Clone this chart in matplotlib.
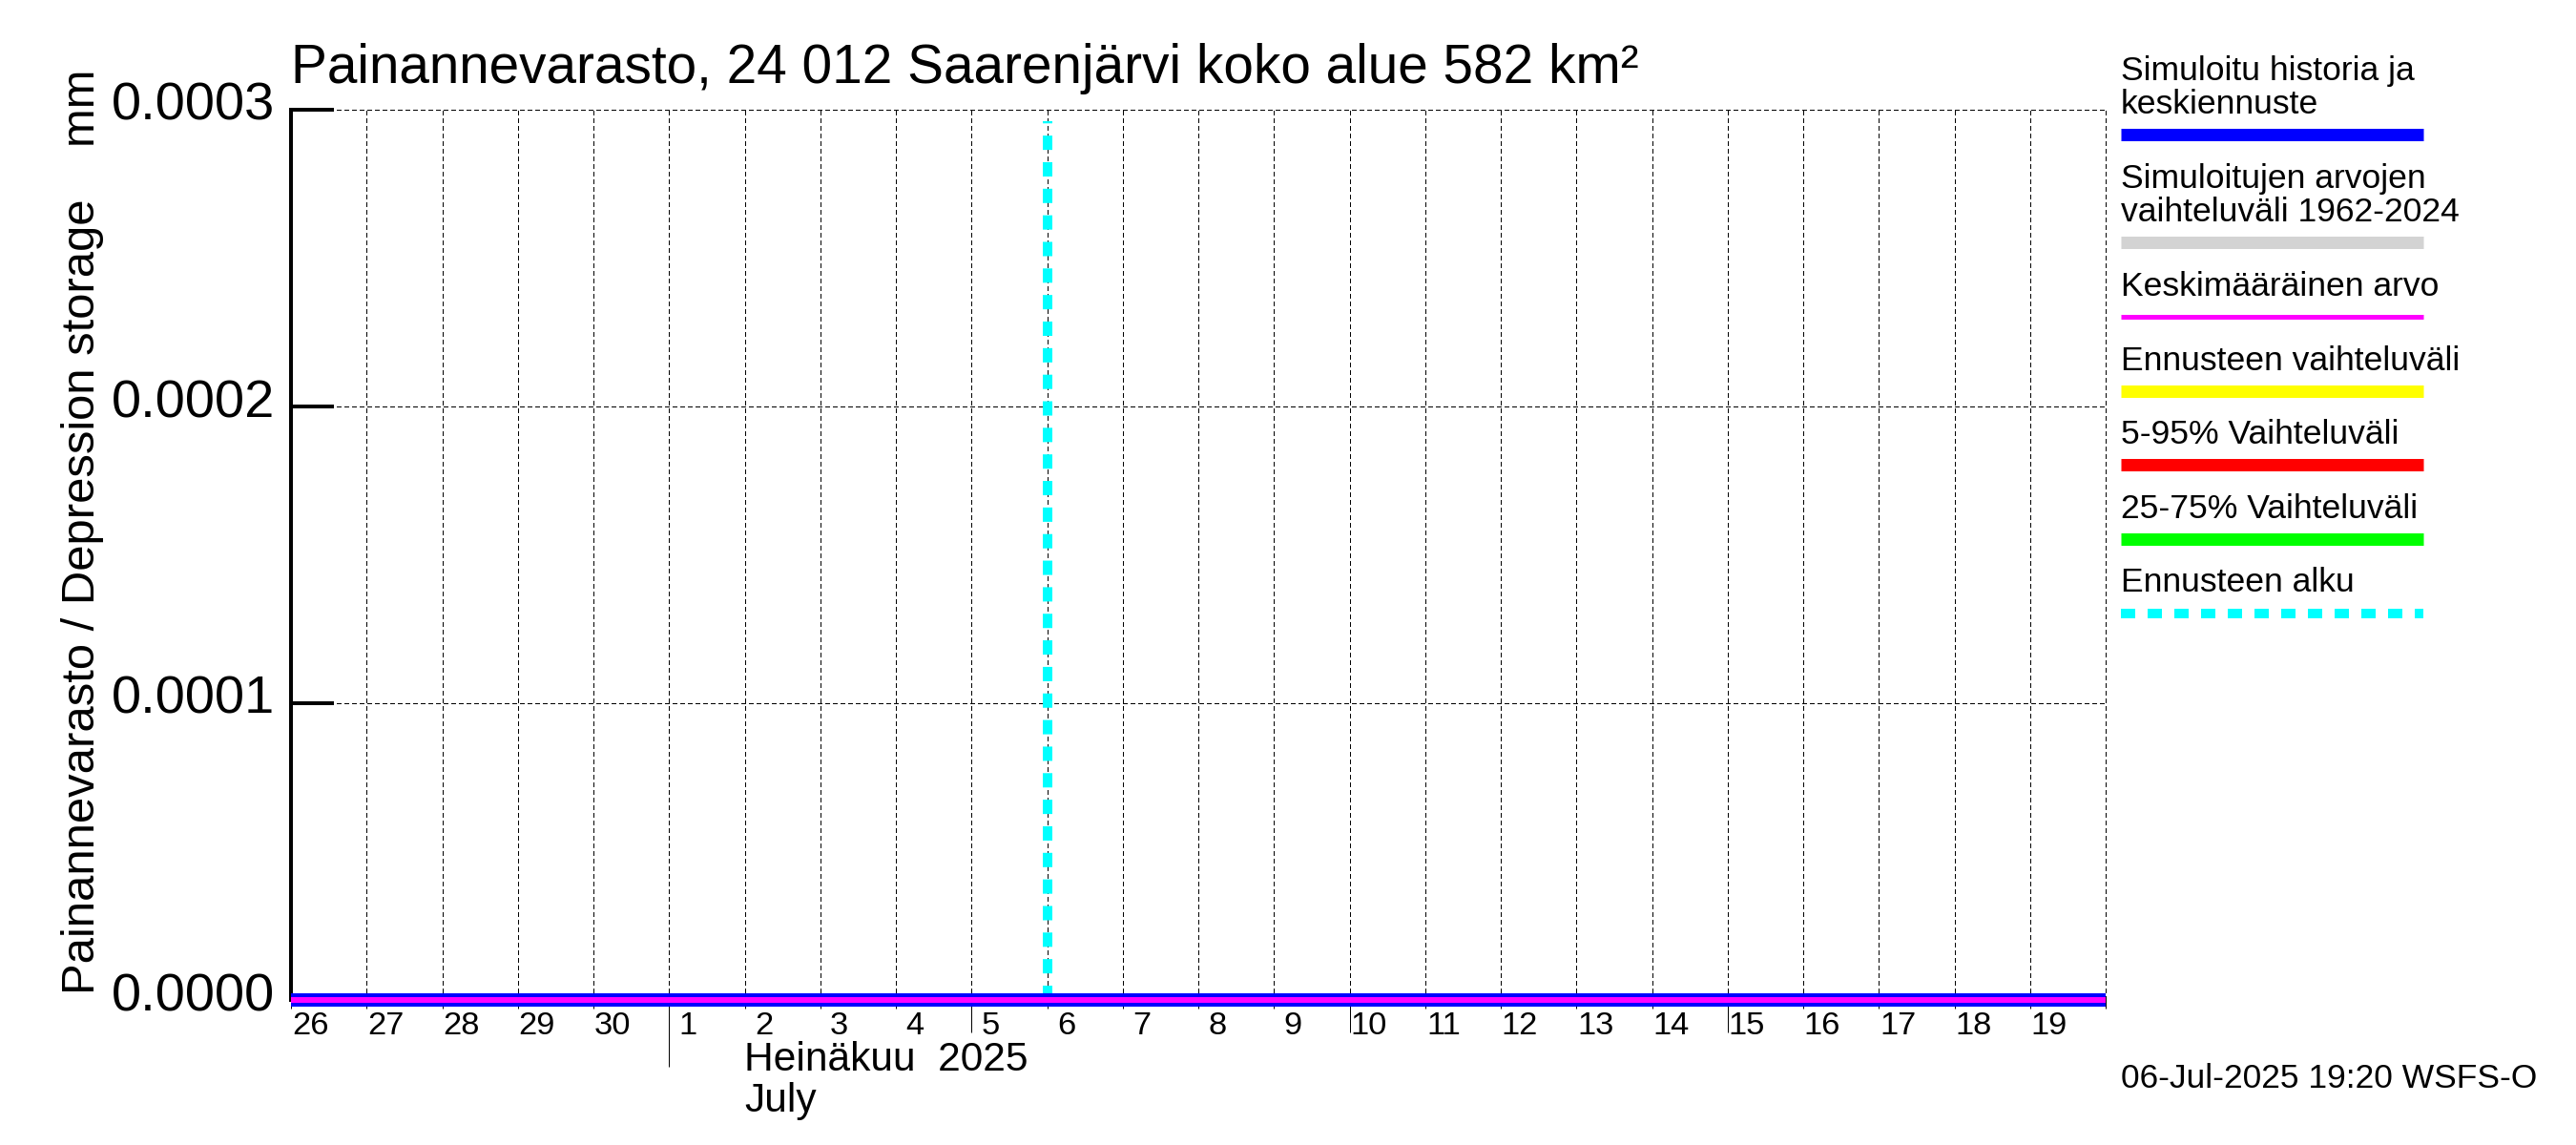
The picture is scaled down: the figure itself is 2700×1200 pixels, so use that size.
import matplotlib
matplotlib.use("Agg")
import matplotlib.pyplot as plt
import pandas as pd
from matplotlib.lines import Line2D
from matplotlib.transforms import ScaledTranslation

plt.rcParams['font.family'] = ['Liberation Sans', 'DejaVu Sans']

W, H = 2700, 1200

## Data

dates = pd.date_range('2025-06-26', '2025-07-20')
day_labels = ['26', '27', '28', '29', '30', '1', '2', '3', '4', '5', '6', '7', '8',
              '9', '10', '11', '12', '13', '14', '15', '16', '17', '18', '19', '']
sim_history = [0.0, 0.0, 0.0, 0.0, 0.0, 0.0, 0.0, 0.0, 0.0, 0.0, 0.0, 0.0, 0.0,
               0.0, 0.0, 0.0, 0.0, 0.0, 0.0, 0.0, 0.0, 0.0, 0.0, 0.0, 0.0]
sim_mean = [0.0, 0.0, 0.0, 0.0, 0.0, 0.0, 0.0, 0.0, 0.0, 0.0, 0.0, 0.0, 0.0,
            0.0, 0.0, 0.0, 0.0, 0.0, 0.0, 0.0, 0.0, 0.0, 0.0, 0.0, 0.0]
forecast_start = pd.Timestamp('2025-07-06')
forecast_top = 0.000296
y_ticks = [0.0, 0.0001, 0.0002, 0.0003]
y_labels = ['0.0000', '0.0001', '0.0002', '0.0003']

legend_texts = [('Simuloitu historia ja', 84), ('keskiennuste', 119),
                ('Simuloitujen arvojen', 197), ('vaihteluväli 1962-2024', 232),
                ('Keskimääräinen arvo', 310), ('Ennusteen vaihteluväli', 388),
                ('5-95% Vaihteluväli', 465), ('25-75% Vaihteluväli', 543),
                ('Ennusteen alku', 620)]
legend_lines = [('#0000ff', 141, 13), ('#d3d3d3', 254, 13), ('#ff00ff', 332, 5),
                ('#ffff00', 410, 13), ('#ff0000', 487, 13), ('#00ff00', 565, 13)]


def px(p):
    # pixels to points
    return p * 0.72


def fx(x):
    return x / W


def fy(y):
    return 1 - y / H


fig = plt.figure(figsize=(27, 12), dpi=100)
ax = fig.add_axes([fx(305), fy(1048), (2207 - 305) / W, (1048 - 115) / H])

ax.set_xlim(dates[0], dates[-1])
ax.set_ylim(0, 0.0003)

## Grid

for s in ['top', 'right', 'bottom']:
    ax.spines[s].set_visible(False)
ax.spines['left'].set_linewidth(px(4))

ax.set_xticks(dates)
ax.set_xticklabels(day_labels, fontsize=px(34.5))
ax.set_yticks(y_ticks)
ax.set_yticklabels(y_labels, fontsize=px(56))
ax.grid(color='black', linewidth=px(1), linestyle=(0, (5, 3)), antialiased=False)
ax.set_axisbelow(True)
for ln in ax.get_xgridlines() + ax.get_ygridlines():
    ln.set_clip_on(False)

ax.tick_params(axis='y', direction='in', length=px(45), width=px(4), pad=px(17))
ax.tick_params(axis='x', direction='out', length=px(9), width=px(1), pad=px(3))

for tick, d in zip(ax.xaxis.get_major_ticks(), dates):
    if d.day == 1:
        tick.tick1line.set_markersize(px(70))
    elif d.day in (5, 10, 15):
        tick.tick1line.set_markersize(px(34))
    tick.tick1line.set_antialiased(False)
    lab = tick.label1
    lab.set_transform(lab.get_transform() + ScaledTranslation(20 / 100, 0, fig.dpi_scale_trans))

for lab in ax.get_yticklabels():
    lab.set_transform(lab.get_transform() + ScaledTranslation(0, 9 / 100, fig.dpi_scale_trans))

## Series

ax.plot([forecast_start, forecast_start], [0, forecast_top], color='#00ffff',
        linewidth=px(10), dashes=(1.5, 1.284), dash_capstyle='butt', zorder=3)
ax.plot(dates, sim_history, color='#0000ff', linewidth=px(14),
        solid_capstyle='butt', clip_on=False, zorder=4)
ax.plot(dates, sim_mean, color='#ff00ff', linewidth=px(6),
        solid_capstyle='butt', clip_on=False, zorder=5)

## Text

fig.text(fx(305), fy(87), 'Painannevarasto, 24 012 Saarenjärvi koko alue 582 km²',
         fontsize=px(56.8), ha='left', va='baseline')
fig.text(fx(99), fy(1042), 'Painannevarasto / Depression storage    mm', fontsize=px(49),
         rotation=90, rotation_mode='anchor', ha='left', va='baseline')
fig.text(fx(780), fy(1122), 'Heinäkuu  2025', fontsize=px(42.5), ha='left', va='baseline')
fig.text(fx(780), fy(1165), 'July', fontsize=px(42.5), ha='left', va='baseline')
fig.text(fx(2223), fy(1140), '06-Jul-2025 19:20 WSFS-O', fontsize=px(35.4), ha='left', va='baseline')

## Legend

for txt, y in legend_texts:
    fig.text(fx(2223), fy(y), txt, fontsize=px(35.5), ha='left', va='baseline')
for col, y, lw in legend_lines:
    fig.add_artist(Line2D([fx(2223), fx(2540)], [fy(y), fy(y)], color=col,
                          linewidth=px(lw), solid_capstyle='butt'))
fig.add_artist(Line2D([fx(2223), fx(2540)], [fy(643), fy(643)], color='#00ffff', linewidth=px(10),
                      dashes=(1.5, 1.3), dash_capstyle='butt'))

fig.savefig('out.png', dpi=100)
